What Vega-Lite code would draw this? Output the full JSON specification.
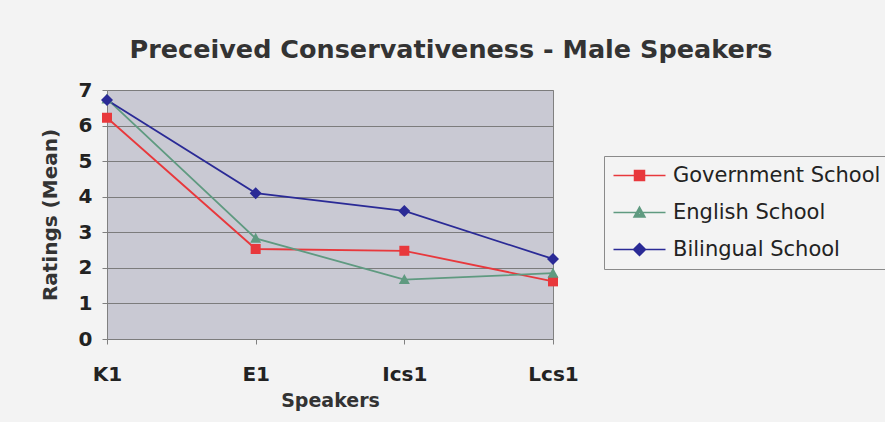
{
  "$schema": "https://vega.github.io/schema/vega-lite/v6.json",
  "autosize": "none",
  "width": 446,
  "height": 249,
  "padding": {"left": 107, "top": 90, "right": 332, "bottom": 83},
  "background": "#f3f3f3",
  "title": {
    "text": "Preceived Conservativeness - Male Speakers",
    "font": "DejaVu Sans",
    "fontSize": 25.5,
    "fontWeight": "bold",
    "color": "#333333",
    "anchor": "middle",
    "baseline": "alphabetic",
    "offset": 33,
    "dx": 121,
    "dy": 36
  },
  "data": {
    "values": [
      {"speaker": "K1", "school": "Government School", "rating": 6.22},
      {"speaker": "E1", "school": "Government School", "rating": 2.53},
      {"speaker": "Ics1", "school": "Government School", "rating": 2.48},
      {"speaker": "Lcs1", "school": "Government School", "rating": 1.62},
      {"speaker": "K1", "school": "English School", "rating": 6.75},
      {"speaker": "E1", "school": "English School", "rating": 2.83},
      {"speaker": "Ics1", "school": "English School", "rating": 1.67},
      {"speaker": "Lcs1", "school": "English School", "rating": 1.85},
      {"speaker": "K1", "school": "Bilingual School", "rating": 6.72},
      {"speaker": "E1", "school": "Bilingual School", "rating": 4.1},
      {"speaker": "Ics1", "school": "Bilingual School", "rating": 3.6},
      {"speaker": "Lcs1", "school": "Bilingual School", "rating": 2.25}
    ]
  },
  "encoding": {
    "x": {
      "field": "speaker",
      "type": "ordinal",
      "sort": ["K1", "E1", "Ics1", "Lcs1"],
      "scale": {"type": "point", "padding": 0},
      "title": "Speakers",
      "axis": {
        "labelAngle": 0,
        "labelFont": "DejaVu Sans",
        "labelFontSize": 20,
        "labelFontWeight": "bold",
        "labelColor": "#222222",
        "labelPadding": 20,
        "tickSize": 5,
        "tickColor": "#808080",
        "domain": false,
        "titleFont": "DejaVu Sans",
        "titleFontSize": 19,
        "titleFontWeight": "bold",
        "titleColor": "#333333",
        "titlePadding": 7
      }
    },
    "y": {
      "field": "rating",
      "type": "quantitative",
      "scale": {"domain": [0, 7], "nice": false},
      "title": "Ratings (Mean)",
      "axis": {
        "values": [0, 1, 2, 3, 4, 5, 6, 7],
        "labelFont": "DejaVu Sans",
        "labelFontSize": 20,
        "labelFontWeight": "bold",
        "labelColor": "#222222",
        "labelPadding": 10,
        "tickSize": 5,
        "tickColor": "#808080",
        "domain": false,
        "grid": true,
        "gridColor": "#7c7c7c",
        "gridWidth": 1,
        "titleFont": "DejaVu Sans",
        "titleFontSize": 20,
        "titleFontWeight": "bold",
        "titleColor": "#333333",
        "titlePadding": 18
      }
    }
  },
  "layer": [
    {
      "transform": [{"filter": "datum.school === 'Government School'"}],
      "mark": {"type": "line", "strokeWidth": 1.8, "color": "#e8383c"}
    },
    {
      "transform": [{"filter": "datum.school === 'English School'"}],
      "mark": {"type": "line", "strokeWidth": 1.8, "color": "#5f9a80"}
    },
    {
      "transform": [{"filter": "datum.school === 'Bilingual School'"}],
      "mark": {"type": "line", "strokeWidth": 1.8, "color": "#2a2a96"}
    },
    {
      "transform": [{"filter": "datum.school === 'Government School'"}],
      "mark": {"type": "point", "filled": true, "size": 100, "opacity": 1, "shape": "M-1,-1H1V1H-1Z", "color": "#e8383c"}
    },
    {
      "transform": [{"filter": "datum.school === 'English School'"}],
      "mark": {"type": "point", "filled": true, "size": 100, "opacity": 1, "shape": "M0,-1.1L1.1,0.9H-1.1Z", "color": "#5f9a80"}
    },
    {
      "transform": [{"filter": "datum.school === 'Bilingual School'"}],
      "mark": {"type": "point", "filled": true, "size": 100, "opacity": 1, "shape": "M0,-1.2L1.2,0L0,1.2L-1.2,0Z", "color": "#2a2a96"}
    },
    {
      "description": "Legend key layer: line-and-marker keys drawn as strokes; the marks themselves are transparent",
      "mark": {"type": "point", "filled": false, "size": 100, "opacity": 0, "strokeWidth": 1.5},
      "encoding": {
        "color": {
          "field": "school",
          "type": "nominal",
          "scale": {
            "domain": ["Government School", "English School", "Bilingual School"],
            "range": ["#e8383c", "#5f9a80", "#2a2a96"]
          },
          "legend": {
            "title": null,
            "orient": "none",
            "legendX": 497,
            "legendY": 66,
            "padding": 9,
            "strokeColor": "#8a8a8a",
            "fillColor": "#f3f3f3",
            "symbolSize": 100,
            "symbolOpacity": 1,
            "symbolStrokeWidth": 1.5,
            "labelFont": "DejaVu Sans",
            "labelFontSize": 21,
            "labelColor": "#222222",
            "labelLimit": 400,
            "labelOffset": 39,
            "rowPadding": 15
          }
        },
        "shape": {
          "field": "school",
          "type": "nominal",
          "scale": {
            "domain": ["Government School", "English School", "Bilingual School"],
            "range": [
              "M-2,0H8.4M2.2,-1H4.2V1H2.2ZM2.5,-0.7H3.9V0.7H2.5ZM2.8,-0.4H3.6V0.4H2.8ZM3.1,-0.1H3.3V0.1H3.1Z",
              "M-2,0H8.4M3.2,-1.1L4.3,0.9H2.1ZM3.2,-0.63L3.92,0.67H2.48ZM3.2,-0.17L3.53,0.43H2.87Z",
              "M-2,0H8.4M3.2,-1.2L4.4,0L3.2,1.2L2,0ZM3.2,-0.8L4,0L3.2,0.8L2.4,0ZM3.2,-0.4L3.6,0L3.2,0.4L2.8,0Z"
            ]
          }
        }
      }
    }
  ],
  "config": {
    "view": {"fill": "#c9c9d3", "stroke": "#808080", "strokeWidth": 1}
  }
}
